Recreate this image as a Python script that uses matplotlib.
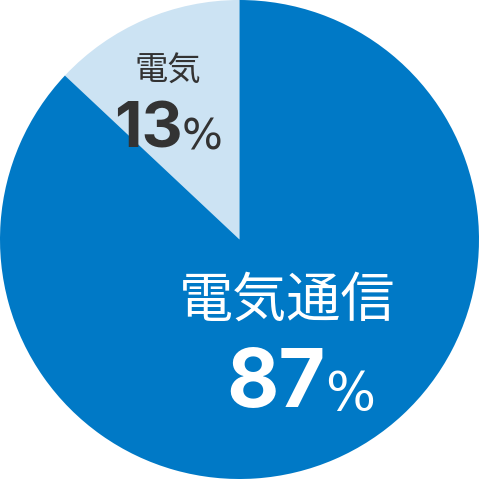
import matplotlib
matplotlib.use("Agg")
import matplotlib.pyplot as plt

categories = ['電気', '電気通信']
values = [13, 87]
colors = ['#CCE3F3', '#0079C6']

W = 479
fig = plt.figure(figsize=(W / 100, W / 100), dpi=100)
ax = fig.add_axes([0, 0, 1, 1])
ax.pie(values, colors=colors, startangle=90, counterclock=True, radius=1.0,
       wedgeprops=dict(linewidth=0))
ax.set_xlim(-1.0, 1.0)
ax.set_ylim(-1.0, 1.0)
ax.set_aspect('equal')
ax.axis('off')

cjk = ['Noto Sans CJK JP', 'DejaVu Sans']
num = ['Inter', 'DejaVu Sans']
pct = ['DejaVu Sans']

def fx(px):
    return px / W

def fy(py):
    return 1 - py / W

# small slice
fig.text(fx(168), fy(70), categories[0], family=cjk, fontsize=24, color='#333333',
         ha='center', va='center')
fig.text(fx(183), fy(148), f'{values[0]}', family=num, fontsize=46, fontweight='bold',
         color='#333333', ha='right', va='baseline')
fig.text(fx(182), fy(149), '%', family=pct, fontsize=31,
         color='#333333', ha='left', va='baseline')

# large slice
fig.text(fx(287), fy(301), categories[1], family=cjk, fontsize=39, color='white',
         ha='center', va='center')
fig.text(fx(326), fy(407), f'{values[1]}', family=num, fontsize=58, fontweight='bold',
         color='white', ha='right', va='baseline')
fig.text(fx(325), fy(410), '%', family=pct, fontsize=38,
         color='white', ha='left', va='baseline')

fig.savefig('out.png', dpi=100)
